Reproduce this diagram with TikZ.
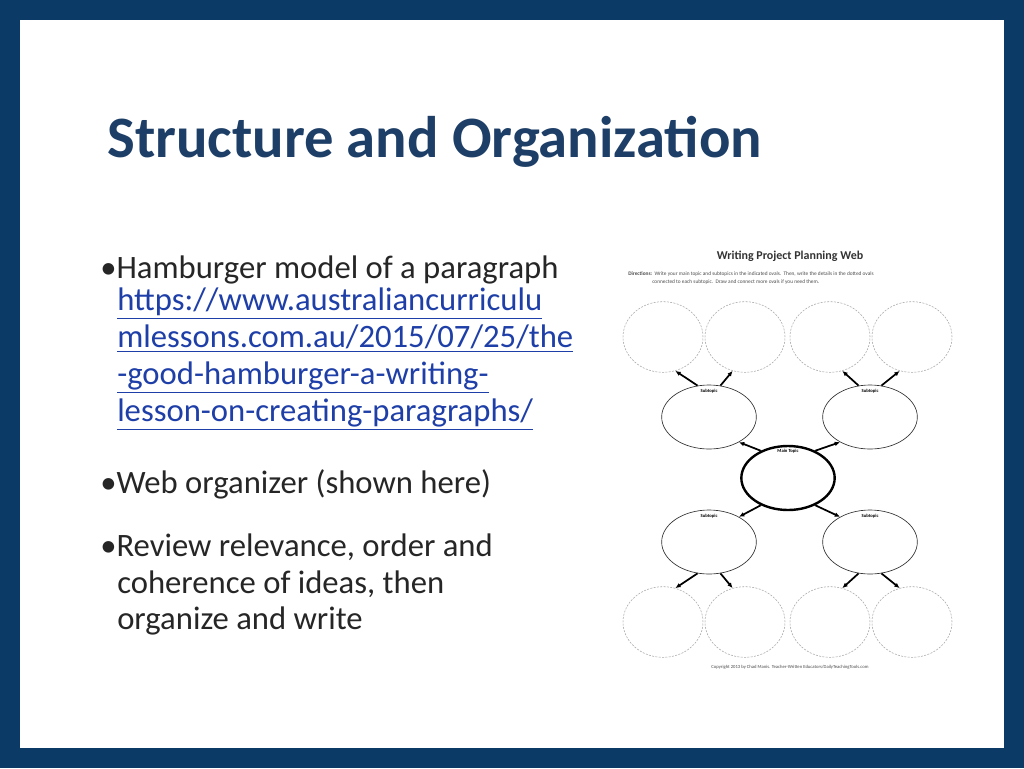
\documentclass[tikz,border=0pt]{standalone}
\usepackage{fontspec}
\setmainfont{Carlito}
\usetikzlibrary{arrows.meta,shapes.geometric}
\definecolor{frame}{HTML}{0B3A66}
\definecolor{ttl}{HTML}{1D3E66}
\definecolor{lnk}{HTML}{1F3FA8}
\tikzset{
 dot/.style={draw=gray!70,dashed,dash pattern=on 1.5pt off 1pt,ellipse,minimum width=60pt,minimum height=53pt,inner sep=0},
 sub/.style={draw=black!80,line width=0.5pt,ellipse,minimum width=71pt,minimum height=48pt,inner sep=0},
 arr/.style={-{Latex[length=4pt,width=3.5pt]},line width=1.3pt},
 body/.style={anchor=west,font=\fontsize{24.5}{27.7}\selectfont,text=black!85,inner sep=0},
 tiny/.style={font=\fontsize{3.5}{4}\selectfont\bfseries,inner sep=0}
}
\begin{document}
\begin{tikzpicture}[x=0.75pt,y=-0.75pt]
\fill[frame] (0,0) rectangle (1024,768);
\fill[white] (20,20) rectangle (1004,748);
\useasboundingbox (0,0) rectangle (1024,768);
\node[anchor=west,inner sep=0,text=ttl,font=\fontsize{44}{46}\selectfont\bfseries] (title) at (107,142) {Structure and Organization};
% bullets
\node[body] (b1) at (100,270) {•Hamburger model of a paragraph};
\node[body,text=lnk,align=left,anchor=north west] (link) at (117,288) {\underline{https://www.australiancurriculu}\\\underline{mlessons.com.au/2015/07/25/the}\\\underline{-good-hamburger-a-writing-}\\\underline{lesson-on-creating-paragraphs/}};
\node[body] (b2) at (100,484) {•Web organizer (shown here)};
\node[body] (b3) at (100,547) {•Review relevance, order and};
\node[body] (b3b) at (117,584) {coherence of ideas, then};
\node[body] (b3c) at (117,621) {organize and write};
% worksheet
\node[font=\fontsize{9}{10}\selectfont\bfseries,text=black!80] (wt) at (790,256) {Writing Project Planning Web};
\node[anchor=north west,inner sep=0,align=left,font=\fontsize{4}{6}\selectfont,text=black!70] (dir) at (628,271) {\textbf{Directions:}\ \ Write your main topic and subtopics in the indicated ovals.\ \ Then, write the details in the dotted ovals\\\hspace{18pt}connected to each subtopic.\ \ Draw and connect more ovals if you need them.};
\node[draw,ellipse,line width=1.8pt,minimum width=70pt,minimum height=48pt,inner sep=0] (main) at (788,478) {};
\node[tiny,anchor=north] at (main.north) [yshift=-3pt] {Main Topic};
\foreach \n/\x/\y in {s1/709/417,s2/870/417,s3/709/542,s4/870/542}{
 \node[sub] (\n) at (\x,\y) {};
 \node[tiny,anchor=north] at (\n.north) [yshift=-3pt] {Subtopic};
}
\foreach \n/\x/\y in {d1/663/337,d2/745/337,d3/830/337,d4/912/337,d5/663/622,d6/745/622,d7/830/622,d8/912/622}{
 \node[dot] (\n) at (\x,\y) {};
}
\draw[arr] (main.135) -- (s1.-40);
\draw[arr] (main.45) -- (s2.-140);
\draw[arr] (main.-135) -- (s3.40);
\draw[arr] (main.-45) -- (s4.140);
\draw[arr] (s1.110) -- (d1.-70);
\draw[arr] (s1.70) -- (d2.-110);
\draw[arr] (s2.110) -- (d3.-70);
\draw[arr] (s2.70) -- (d4.-110);
\draw[arr] (s3.-110) -- (d5.70);
\draw[arr] (s3.-70) -- (d6.110);
\draw[arr] (s4.-110) -- (d7.70);
\draw[arr] (s4.-70) -- (d8.110);
\node[font=\fontsize{3.5}{4}\selectfont,text=black!70] (copy) at (790,667) {Copyright 2013 by Chad Manis. Teacher-Written Educators/DailyTeachingTools.com};
\end{tikzpicture}
\end{document}
